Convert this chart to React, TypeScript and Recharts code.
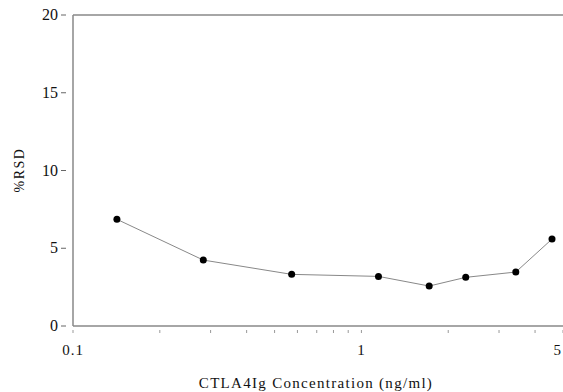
import React from "react";
import { LineChart, Line, XAxis, YAxis, ReferenceLine } from "recharts";

const concentrations = [0.142, 0.283, 0.573, 1.146, 1.718, 2.3, 3.43, 4.58];
const rsdValues = [6.86, 4.24, 3.32, 3.19, 2.57, 3.13, 3.47, 5.59];
const xTicks = [0.1, 0.2, 0.3, 0.4, 0.5, 0.6, 0.7, 0.8, 0.9, 1, 2, 3, 4, 5];
const xLabeled = [0.1, 1, 5];
const yTicks = [0, 5, 10, 15, 20];

const data = concentrations.map((c, i) => ({ x: c, y: rsdValues[i] }));

const FONT = "'Liberation Serif', 'DejaVu Serif', serif";

const XTick = (props: any) => {
  const { x, y, payload } = props;
  const v = payload.value;
  const labeled = xLabeled.some((t) => Math.abs(t - v) < 1e-9);
  const isLast = Math.abs(v - 5) < 1e-9;
  return (
    <g>
      <line x1={x} x2={x} y1={y - 1} y2={y - 4} stroke="#999" strokeWidth={1} />
      {labeled && (
        <text
          x={isLast ? x - 1 : x}
          y={y + 21}
          textAnchor={isLast ? "end" : "middle"}
          fontSize={15}
          fontFamily={FONT}
          fill="#111"
          letterSpacing={1}
        >
          {v}
        </text>
      )}
    </g>
  );
};

const YTick = (props: any) => {
  const { x, y, payload } = props;
  return (
    <g>
      <line x1={x + 1} x2={x - 4} y1={y} y2={y} stroke="#666" strokeWidth={1} />
      <text x={x - 7} y={y + 5} textAnchor="end" fontSize={16} fontFamily={FONT} fill="#111">
        {payload.value}
      </text>
    </g>
  );
};

const YLabel = () => (
  <text
    x={24}
    y={170}
    transform="rotate(-90, 24, 170)"
    textAnchor="middle"
    fontSize={14}
    fontFamily={FONT}
    fill="#111"
    letterSpacing={1.5}
  >
    %RSD
  </text>
);

export default function App() {
  return (
    <div style={{ position: "absolute", left: 0, top: 0, background: "#fff" }}>
      <LineChart
        width={563}
        height={392}
        data={data}
        margin={{ top: 15, right: 0, bottom: 0, left: 0 }}
      >
        <XAxis
          dataKey="x"
          type="number"
          scale="log"
          domain={[0.1, 5]}
          ticks={xTicks}
          allowDataOverflow
          height={66}
          stroke="#888"
          strokeWidth={1.5}
          tickLine={false}
          tick={<XTick />}
          interval={0}
          label={{
            value: "CTLA4Ig Concentration (ng/ml)",
            position: "insideBottom",
            offset: 4,
            fontSize: 15,
            fontFamily: FONT,
            fill: "#111",
            dx: -2,
            letterSpacing: 1.3,
          }}
        />
        <YAxis
          type="number"
          domain={[0, 20]}
          ticks={yTicks}
          width={73}
          stroke="#888"
          strokeWidth={1.5}
          tickLine={false}
          tick={<YTick />}
          interval={0}
          label={<YLabel />}
        />
        <ReferenceLine y={20} stroke="#888" strokeWidth={1.5} ifOverflow="extendDomain" />
        <Line
          dataKey="y"
          stroke="#888"
          strokeWidth={1}
          isAnimationActive={false}
          dot={{ r: 3.5, fill: "#000", stroke: "#000", strokeWidth: 0 }}
        />
      </LineChart>
    </div>
  );
}
